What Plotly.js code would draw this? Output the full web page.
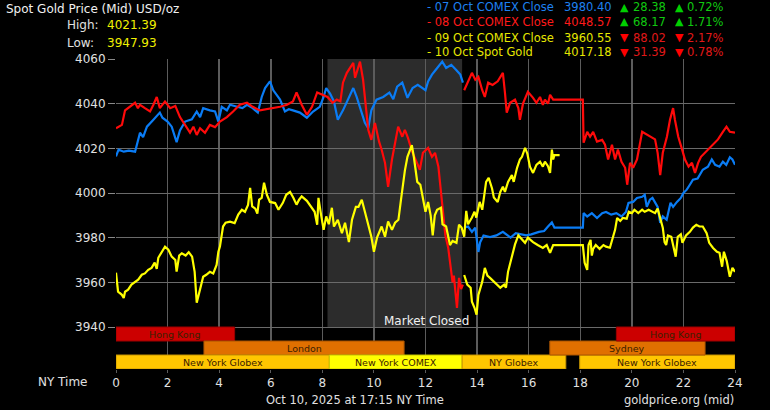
<!DOCTYPE html>
<html>
<head>
<meta charset="utf-8">
<script src="https://cdn.plot.ly/plotly-3.0.1.min.js"></script>
<style>
  html, body { margin: 0; padding: 0; background: #000; }
  #chart { width: 770px; height: 410px; }
</style>
</head>
<body>
<div id="chart"></div>
<script>
// ---------- DATA ----------
// 07 Oct COMEX Close (blue) - first part
const blueAHours = [0.0,0.1,0.3,0.5,0.74,0.93,1.05,1.2,1.45,1.7,1.8,2.0,2.16,2.35,2.48,2.68,2.94,3.13,3.26,3.38,3.64,3.84,3.97,4.1,4.3,4.42,4.7,4.9,5.08,5.3,5.5,5.65,5.78,5.97,6.1,6.36,6.55,6.7,6.86,7.13,7.4,7.64,7.9,8.05,8.15,8.3,8.45,8.6,8.8,9.0,9.2,9.33,9.5,9.65,9.78,9.9,10.1,10.36,10.6,10.75,10.9,11.1,11.3,11.5,11.7,12.0,12.1,12.25,12.4,12.65,12.8,13.0,13.2,13.35,13.45];
const blueAVals = [4016.4,4019.4,4018.5,4019.0,4018.5,4027,4025,4029.7,4032.8,4036,4033.7,4032,4029.7,4022.8,4028,4032,4033,4036.5,4034,4038,4037,4036.5,4032,4038.6,4037,4039.5,4038.6,4038,4039.5,4038,4036,4043,4047,4050,4046,4041.8,4036.5,4037.5,4037,4036,4033.7,4036.5,4038.6,4043,4047,4044.5,4041,4032.8,4037,4041.8,4047,4043,4037,4031.4,4029,4037,4041.8,4043,4045,4042,4047.6,4049.4,4042.6,4047,4048.4,4046,4050,4053,4055.2,4058.8,4056,4057.4,4055,4053,4049.4];
// 07 Oct COMEX Close (blue) - second part
const blueBHours = [13.5,13.65,13.8,13.93,14.05,14.12,14.25,14.5,14.75,15.0,15.3,15.5,15.9,16.1,16.4,16.6,16.75,16.9,17.0,18.1,18.13,18.27,18.45,18.65,18.85,19.0,19.2,19.4,19.6,19.77,19.87,20.05,20.2,20.4,20.5,20.58,20.7,20.8,21.0,21.1,21.2,21.35,21.5,21.6,21.75,21.9,22.0,22.13,22.25,22.37,22.55,22.75,22.95,23.1,23.23,23.4,23.53,23.66,23.8,23.9,24.0];
const blueBVals = [3984.5,3985,3982.6,3984.5,3973.6,3978,3981,3980.3,3981,3982.6,3980,3982,3981,3981.5,3982.6,3983,3985,3986.8,3984.5,3984.5,3991,3989.5,3991,3988.8,3991,3991.5,3990.3,3991,3989.5,3991.5,3995.6,3996,3997.8,3998.3,3999.2,3993.8,3997,3997.8,3993.8,3986.6,3989.5,3988,3995.6,3993.8,3996,3997.8,4000,4001.5,4003.7,4006,4006.5,4010.4,4011.8,4015,4012.6,4011.8,4014,4012.6,4016,4015,4012.6];

// 08 Oct COMEX Close (red)
const redAHours = [0.0,0.15,0.23,0.35,0.54,0.74,0.85,0.93,1.12,1.32,1.45,1.58,1.7,1.9,2.1,2.3,2.48,2.68,2.87,3.0,3.13,3.26,3.45,3.64,3.84,4.03,4.3,4.54,4.8,5.08,5.3,5.58,5.85,6.1,6.36,6.63,6.86,7.0,7.2,7.4,7.6,7.8,8.0,8.2,8.4,8.56,8.7,8.8,8.95,9.07,9.2,9.27,9.4,9.46,9.58,9.65,9.78,9.9,10.04,10.2,10.3,10.43,10.55,10.7,10.82,10.94,11.1,11.2,11.32,11.48,11.67,11.78,11.9,12.1,12.25,12.37,12.5,12.6,12.68,12.77,12.88,12.98,13.05,13.1,13.17,13.22,13.3,13.38,13.45];
const redAVals = [4029,4030,4030.5,4037,4038.6,4040.4,4038,4039.5,4038,4036.5,4039.5,4043,4038,4041,4038,4039,4034,4030.5,4027,4029.7,4026,4029,4027,4030.5,4029.5,4032,4034,4036.5,4039.5,4040.4,4038.6,4037,4037.5,4038,4038.6,4039.5,4041,4045,4039.5,4035,4038.6,4045,4044,4043,4040.4,4041.8,4041,4049.4,4053.8,4056,4058.3,4051.6,4056.6,4058.8,4050.7,4041.8,4028.3,4023.8,4031.4,4023,4019.4,4013.5,4002.8,4015,4022.5,4029.7,4025.2,4028.3,4024.7,4018.5,4013.5,4010.4,4018,4020.2,4016.2,4018,4011.8,4001.5,3991.6,3981,3975.5,3966.5,3960,3963,3955.6,3948.6,3962,3957,3959];
const redBHours = [13.5,13.65,13.8,13.93,14.05,14.2,14.3,14.43,14.6,14.8,15.0,15.08,15.15,15.28,15.47,15.6,15.66,15.78,15.97,16.17,16.3,16.44,16.55,16.63,16.75,16.83,16.95,18.1,18.13,18.27,18.38,18.5,18.65,18.85,18.96,19.08,19.23,19.35,19.46,19.6,19.74,19.82,19.93,20.05,20.2,20.4,20.6,20.8,20.9,21.0,21.1,21.2,21.36,21.48,21.6,21.67,21.8,21.95,22.06,22.2,22.33,22.45,22.57,22.68,22.84,23.04,23.23,23.34,23.53,23.67,23.8,24.0];
const redBVals = [4046,4050,4053.8,4050.7,4052,4046,4043,4049.4,4048.4,4050,4053.8,4045,4036,4040.4,4041.8,4038,4032.8,4040,4045.3,4042.6,4040.4,4043,4039.5,4041.8,4040,4044,4041.8,4041.8,4022.5,4027.4,4025.2,4027.4,4023,4023.8,4021.6,4015,4021.6,4015,4019.4,4014,4011.3,4003.7,4013.5,4011.3,4015,4027.4,4026,4024.7,4024,4018,4008,4018,4025.2,4032.8,4038,4032.8,4025.2,4019.4,4015,4011.8,4013.5,4009,4013.5,4016.2,4018,4020.7,4022.5,4024,4027.4,4029.7,4027.4,4027];

// 09 Oct COMEX Close (yellow) - drawn after the COMEX close
const y09Hours = [13.5,13.62,13.75,13.8,13.9,13.98,14.05,14.2,14.3,14.4,14.5,14.65,14.8,14.9,15.05,15.12,15.2,15.35,15.47,15.6,15.74,15.86,15.97,16.17,16.35,16.55,16.7,16.83,16.95,18.1,18.17,18.27,18.32,18.4,18.45,18.5,18.6,18.75,18.9,19.0,19.15,19.25,19.35,19.43,19.55,19.65,19.8,19.88,20.0,20.1,20.25,20.4,20.5,20.65,20.8,20.9,21.0,21.13,21.2,21.27,21.33,21.4,21.53,21.6,21.7,21.78,21.9,21.96,22.1,22.25,22.37,22.5,22.62,22.75,22.9,23.0,23.15,23.3,23.4,23.5,23.57,23.68,23.8,23.9,24.0];
const y09Vals = [3963.3,3959,3957.6,3951.3,3948.6,3945.5,3954.4,3960.3,3966.5,3963,3962,3960.3,3959,3957.6,3959,3957.6,3964.7,3972.3,3977,3981,3979,3977.7,3980,3978,3976.7,3975.4,3976.7,3973.2,3976.7,3976.7,3968.8,3965.6,3976.7,3979,3972,3975,3976.7,3975,3976.7,3976,3975.5,3979,3983.5,3988.8,3987.5,3988.8,3988.5,3991.6,3991,3992.5,3991,3992.5,3991.6,3992.5,3991.6,3991,3993,3988,3984.5,3978,3976.7,3981,3980.4,3976.7,3971.5,3980.4,3981.5,3977.7,3981,3982.6,3984.5,3985.8,3985,3985,3982,3977.7,3975.4,3973.7,3973.2,3967,3973.7,3969.5,3962.5,3966.5,3964.7];

// 10 Oct Spot Gold (yellow)
const y10Hours = [0.0,0.08,0.23,0.3,0.35,0.47,0.6,0.74,0.86,1.0,1.12,1.25,1.38,1.5,1.58,1.64,1.77,1.9,2.03,2.16,2.3,2.35,2.45,2.55,2.7,2.82,2.95,3.0,3.05,3.13,3.26,3.38,3.5,3.64,3.77,3.9,3.97,4.03,4.15,4.25,4.42,4.6,4.74,4.88,5.0,5.12,5.2,5.28,5.4,5.48,5.55,5.65,5.74,5.85,5.97,6.17,6.3,6.47,6.6,6.75,6.88,7.0,7.1,7.2,7.4,7.6,7.7,7.8,7.85,7.95,8.05,8.15,8.25,8.37,8.45,8.6,8.76,8.88,9.03,9.15,9.3,9.4,9.53,9.65,9.78,9.9,10.0,10.12,10.3,10.43,10.55,10.7,10.82,10.95,11.05,11.13,11.2,11.3,11.4,11.47,11.55,11.62,11.68,11.8,11.87,12.0,12.1,12.2,12.28,12.36,12.45,12.6,12.66,12.8,12.95,13.05,13.2,13.3,13.4,13.5,13.58,13.65,13.8,13.9,13.97,14.1,14.2,14.35,14.45,14.58,14.65,14.8,14.9,15.0,15.08,15.2,15.35,15.42,15.55,15.66,15.74,15.86,15.95,16.05,16.17,16.3,16.44,16.55,16.63,16.75,16.83,16.9,16.95,17.0,17.2];
const y10Vals = [3964.3,3955.8,3954.4,3953,3955.8,3956.7,3959,3960.3,3961.2,3963.4,3964,3965.6,3966.5,3968.8,3966,3971,3973.7,3976,3974.6,3971.5,3970,3964.8,3972,3973,3972,3973.5,3971.5,3968.8,3964.7,3950.9,3956.7,3962.5,3963.4,3964.7,3964,3967.8,3973.7,3976,3985,3986.7,3987.2,3986.5,3990.3,3992.5,3991.6,3994.7,4002.3,3994,3993,3990.8,3997,3997.8,4004.6,3999.2,3996,3995.5,3992.5,3995.6,3999.2,4000.5,3997.8,3994.8,3997,3998.5,3996.5,3993.4,3991.6,3985.8,3997.8,3990.3,3983.5,3989.5,3986,3993.4,3985,3988,3982,3986.7,3978,3988,3993.8,3993.8,3997,3991.6,3985,3980.4,3973.7,3980,3985,3980.4,3987.2,3983.5,3986.7,3988,3997,4004.6,4010,4016.2,4019,4021.4,4016,4010,4005,4003.7,3999.2,3991.6,3996,3990,3981,3990,3992.5,3993.4,3986,3985,3976.7,3978.5,3977.7,3985.8,3984.5,3980.4,3992,3986,3989,3991.6,3989,3996,3992.5,4005,4006.8,4002,3998,3996,4000.5,4002.8,4000.5,4005,4008,4005,4011.3,4015,4016.2,4020.2,4017.6,4011.8,4009,4012.6,4014,4011.8,4014,4012,4009,4019.4,4015,4017,4017];

// legend / header texts
const legendLabels = ['- 07 Oct COMEX Close', '- 08 Oct COMEX Close', '- 09 Oct COMEX Close', '- 10 Oct Spot Gold'];
const legendPrices = ['3980.40', '4048.57', '3960.55', '4017.18'];
const legendChanges = ['28.38', '68.17', '88.02', '31.39'];
const legendPcts = ['0.72%', '1.71%', '2.17%', '0.78%'];
const legendUp = [true, true, false, false];
const highValue = '4021.39';
const lowValue = '3947.93';

// trading sessions (hours NY time)
const sessionNames = ['Hong Kong', 'London', 'New York Globex', 'New York COMEX', 'NY Globex', 'New York Globex', 'Sydney', 'Hong Kong'];
const sessionStart = [0, 3.41, 0, 8.27, 13.42, 17.98, 16.82, 19.4];
const sessionEnd = [4.6, 11.17, 8.27, 13.42, 17.44, 24, 22.84, 24];
const sessionRow = [0, 1, 2, 2, 2, 2, 1, 0];
const sessionKind = ['hk', 'ldn', 'glx', 'comex', 'glx', 'glx', 'ldn', 'hk'];
const marketClosed = [8.2, 13.42];

const hourTicks = [0, 2, 4, 6, 8, 10, 12, 14, 16, 18, 20, 22, 24];
const priceTicks = [3940, 3960, 3980, 4000, 4020, 4040, 4060];

// ---------- STYLE ----------
const W = 770, H = 410;
const M = {l: 116, r: 35, t: 59, b: 41};
const PW = W - M.l - M.r, PH = H - M.t - M.b;
const yMin = 3921.2, yMax = 4060;
const rowH = 6.27;
const FONT = 'DejaVu Sans, Verdana, sans-serif';
const BLUE = '#0a7cf5', RED = '#ff0a0a', YEL = '#ffff00';
const kindFill = {hk: '#cc0000', ldn: '#e07000', glx: '#ffc600', comex: '#ffff00'};
const kindLine = {hk: '#990000', ldn: '#a85400', glx: '#c89600', comex: '#c8c800'};

function px(x) { return (x - M.l) / PW; }
function py(y) { return (M.t + PH - y) / PH; }

function joinSeg(h1, v1, h2, v2) {
  return {x: h1.concat([null], h2), y: v1.concat([null], v2)};
}

const blue = joinSeg(blueAHours, blueAVals, blueBHours, blueBVals);
const red = joinSeg(redAHours, redAVals, redBHours, redBVals);

const traces = [
  {x: blue.x, y: blue.y, type: 'scatter', mode: 'lines', line: {color: BLUE, width: 2.2}, connectgaps: false},
  {x: red.x, y: red.y, type: 'scatter', mode: 'lines', line: {color: RED, width: 2.2}, connectgaps: false},
  {x: y09Hours, y: y09Vals, type: 'scatter', mode: 'lines', line: {color: YEL, width: 2.2}},
  {x: y10Hours, y: y10Vals, type: 'scatter', mode: 'lines', line: {color: YEL, width: 2.2}}
];

const shapes = [{
  type: 'rect', xref: 'x', yref: 'y', x0: marketClosed[0], x1: marketClosed[1], y0: 3940, y1: 4060,
  fillcolor: '#2c2c2c', line: {width: 0}, layer: 'below'
}];
const annotations = [];

sessionNames.forEach((name, i) => {
  const top = 3940 - sessionRow[i] * rowH;
  shapes.push({
    type: 'rect', xref: 'x', yref: 'y', x0: sessionStart[i], x1: sessionEnd[i], y0: top - rowH, y1: top,
    fillcolor: kindFill[sessionKind[i]], line: {color: kindLine[sessionKind[i]], width: 1}, layer: 'above'
  });
  annotations.push({
    xref: 'x', yref: 'y', x: (sessionStart[i] + sessionEnd[i]) / 2, y: top - rowH / 2,
    text: name, showarrow: false, xanchor: 'center', yanchor: 'middle',
    font: {family: FONT, size: 9.5, color: '#3a2000'}
  });
});

function txt(x, y, text, color, size, anchor) {
  annotations.push({
    xref: 'paper', yref: 'paper', x: px(x), y: py(y), text: text, showarrow: false,
    xanchor: anchor || 'left', yanchor: 'middle', borderpad: 0,
    font: {family: FONT, size: size, color: color}
  });
}

txt(5, 9, 'Spot Gold Price (Mid) USD/oz', '#f0f0f0', 12);
txt(66, 25, 'High:', '#e0e0e0', 12);
txt(106, 25, highValue, '#f0f000', 12);
txt(66, 43, 'Low:', '#e0e0e0', 12);
txt(106, 43, lowValue, '#f0f000', 12);

const legendColors = ['#1e80f0', '#ff1a1a', '#e6e600', '#e6e600'];
const legendY = [7, 22, 37.5, 52.5];
legendLabels.forEach((lab, i) => {
  const y = legendY[i];
  txt(426, y, lab, legendColors[i], 11.5);
  txt(613, y, legendPrices[i], legendColors[i], 11.5, 'right');
  const c = legendUp[i] ? '#00d000' : '#ff0000';
  const chgColor = legendUp[i] ? '#10c810' : '#e01818';
  const ar = legendUp[i] ? '▲' : '▼';
  txt(624, y, ar, c, 11, 'center');
  txt(667, y, legendChanges[i], chgColor, 11.5, 'right');
  txt(679, y, ar, c, 11, 'center');
  txt(725, y, legendPcts[i], chgColor, 11.5, 'right');
});

txt(426, 321, 'Market Closed', '#f0f0f0', 12, 'center');
txt(89, 382, 'NY Time', '#e0e0e0', 12, 'right');
txt(355, 400, 'Oct 10, 2025 at 17:15 NY Time', '#e0e0e0', 11.5, 'center');
txt(735, 400, 'goldprice.org (mid)', '#e0e0e0', 11.5, 'right');

const layout = {
  width: W, height: H,
  margin: M,
  paper_bgcolor: '#000', plot_bgcolor: '#000',
  showlegend: false,
  font: {family: FONT, color: '#e0e0e0', size: 12},
  xaxis: {
    range: [0, 24], tickvals: hourTicks, ticktext: hourTicks.map(String),
    showgrid: true, gridcolor: '#5c5c5c', gridwidth: 1.5, zeroline: false, showline: false,
    ticks: 'outside', ticklen: 3, tickcolor: '#5c5c5c',
    tickfont: {family: FONT, size: 12, color: '#e0e0e0'}, fixedrange: true
  },
  yaxis: {
    range: [yMin, yMax], tickvals: priceTicks, ticktext: priceTicks.map(String),
    showgrid: true, gridcolor: '#6a6a6a', gridwidth: 1, zeroline: false, showline: false,
    ticks: 'outside', ticklen: 7, tickcolor: '#8a8a8a',
    tickfont: {family: FONT, size: 12, color: '#e0e0e0'}, fixedrange: true
  },
  shapes: shapes,
  annotations: annotations
};

Plotly.newPlot('chart', traces, layout, {displayModeBar: false, staticPlot: true});
</script>
</body>
</html>
